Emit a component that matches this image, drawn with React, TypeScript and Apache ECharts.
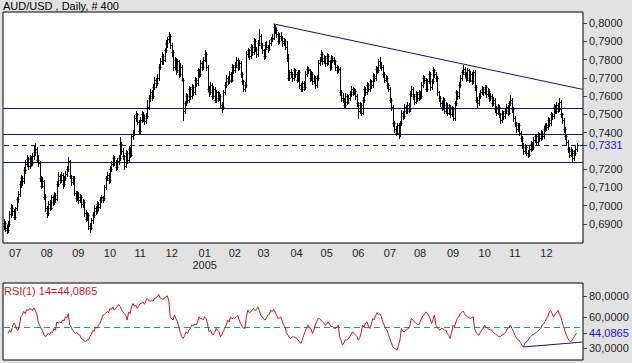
import React, { useEffect, useRef } from "react";
import * as echarts from "echarts";

// Prices in units of 0.0001 (pips)
const OPEN = [
  6890,6905,6880,6868,6900,6955,6990,6970,6940,6985,
  7035,7065,7120,7150,7135,7195,7230,7255,7215,7260,
  7235,7270,7295,7310,7250,7235,7150,7110,7135,7050,
  6985,6960,7010,6990,7045,7020,7060,7035,7120,7165,
  7140,7170,7120,7150,7175,7200,7245,7160,7130,7150,
  7070,7040,7065,7030,7050,7010,7020,6960,6930,6950,
  6890,6880,6920,6950,6990,6970,7010,6995,7030,7045,
  7040,7100,7150,7170,7140,7200,7230,7260,7240,7210,
  7245,7260,7340,7300,7270,7220,7290,7250,7310,7280,
  7380,7395,7480,7500,7460,7410,7470,7500,7480,7465,
  7490,7540,7590,7620,7600,7650,7690,7670,7700,7760,
  7790,7820,7800,7850,7890,7910,7930,7880,7840,7760,
  7800,7740,7790,7720,7760,7690,7520,7560,7600,7580,
  7640,7600,7650,7620,7690,7670,7740,7720,7780,7760,
  7800,7830,7760,7640,7620,7660,7600,7640,7580,7620,
  7590,7600,7550,7540,7620,7660,7700,7680,7720,7690,
  7760,7740,7770,7800,7760,7780,7720,7680,7640,7660,
  7830,7850,7820,7870,7840,7900,7860,7830,7890,7930,
  7880,7850,7820,7880,7870,7860,7890,7910,7920,7980,
  7960,7940,7900,7930,7920,7890,7900,7870,7810,7700,
  7730,7720,7700,7740,7720,7690,7730,7660,7640,7670,
  7650,7720,7750,7740,7700,7720,7680,7700,7660,7700,
  7780,7800,7830,7790,7810,7780,7820,7790,7760,7810,
  7800,7790,7760,7740,7750,7620,7590,7580,7550,7600,
  7570,7590,7610,7640,7620,7630,7600,7560,7520,7550,
  7510,7580,7640,7620,7660,7640,7680,7660,7710,7700,
  7750,7740,7790,7770,7760,7720,7690,7700,7660,7640,
  7580,7540,7450,7420,7400,7440,7390,7450,7510,7490,
  7540,7520,7550,7530,7610,7640,7600,7570,7610,7590,
  7620,7600,7660,7700,7690,7640,7680,7720,7650,7680,
  7740,7720,7700,7620,7590,7560,7540,7580,7520,7550,
  7510,7540,7500,7530,7480,7560,7620,7600,7660,7700,
  7730,7750,7720,7700,7740,7690,7720,7680,7730,7650,
  7580,7560,7600,7620,7640,7620,7650,7610,7630,7590,
  7600,7560,7580,7530,7510,7540,7500,7470,7510,7490,
  7520,7540,7510,7560,7580,7530,7480,7450,7420,7440,
  7400,7370,7330,7300,7320,7290,7280,7310,7340,7320,
  7360,7380,7350,7390,7370,7400,7380,7420,7440,7430,
  7470,7450,7500,7490,7540,7520,7550,7530,7570,7500,
  7470,7420,7380,7350,7310,7280,7300,7260,7290,7310,
];
const HIGH = [
  6925,6915,6895,6915,6970,7010,7005,6980,6995,7050,
  7080,7135,7170,7165,7210,7250,7275,7265,7280,7270,
  7290,7325,7343,7320,7275,7245,7165,7155,7140,7065,
  7000,7025,7030,7060,7055,7075,7070,7135,7185,7175,
  7185,7180,7165,7190,7215,7266,7250,7170,7165,7160,
  7080,7080,7075,7065,7060,7035,7030,6975,6965,6960,
  6905,6935,6965,7005,7000,7025,7020,7045,7060,7055,
  7115,7165,7185,7180,7215,7245,7275,7270,7250,7260,
  7275,7376,7350,7315,7280,7305,7300,7325,7320,7395,
  7415,7495,7520,7510,7470,7485,7520,7515,7495,7510,
  7580,7605,7640,7635,7665,7705,7700,7720,7775,7810,
  7840,7830,7865,7905,7925,7950,7940,7890,7850,7815,
  7810,7805,7800,7780,7770,7700,7575,7615,7610,7655,
  7650,7665,7660,7705,7700,7755,7750,7795,7790,7815,
  7852,7840,7770,7655,7675,7670,7655,7650,7635,7630,
  7620,7610,7565,7635,7675,7715,7710,7735,7730,7775,
  7770,7785,7815,7810,7795,7790,7730,7690,7675,7845,
  7865,7860,7885,7880,7915,7910,7870,7905,7967,7940,
  7890,7860,7895,7900,7880,7905,7925,7940,7995,7990,
  7975,7950,7945,7950,7930,7920,7910,7900,7830,7745,
  7750,7730,7755,7750,7730,7745,7740,7670,7685,7680,
  7735,7765,7760,7750,7735,7730,7715,7710,7715,7795,
  7815,7852,7840,7825,7820,7835,7830,7800,7825,7820,
  7815,7800,7770,7765,7760,7635,7615,7590,7615,7610,
  7605,7625,7655,7650,7645,7640,7610,7570,7565,7560,
  7595,7655,7650,7675,7670,7695,7690,7725,7720,7765,
  7760,7805,7814,7785,7770,7730,7715,7710,7670,7650,
  7590,7550,7465,7435,7455,7450,7465,7525,7520,7555,
  7550,7565,7560,7625,7655,7650,7610,7625,7620,7635,
  7630,7675,7715,7710,7700,7695,7735,7730,7695,7760,
  7750,7730,7710,7630,7600,7575,7595,7590,7565,7560,
  7555,7550,7545,7540,7575,7635,7630,7675,7715,7745,
  7770,7760,7730,7755,7750,7735,7730,7745,7740,7660,
  7595,7615,7635,7655,7650,7660,7660,7645,7640,7615,
  7610,7595,7590,7545,7555,7550,7510,7525,7520,7535,
  7555,7550,7575,7605,7590,7540,7490,7460,7455,7450,
  7410,7380,7345,7335,7330,7305,7325,7355,7350,7375,
  7395,7390,7405,7400,7415,7410,7435,7455,7450,7485,
  7480,7515,7510,7555,7550,7565,7560,7590,7580,7510,
  7480,7430,7390,7360,7320,7320,7310,7305,7325,7345,
];
const LOW = [
  6870,6860,6850,6858,6890,6940,6950,6925,6930,6975,
  7020,7055,7105,7115,7125,7180,7215,7200,7205,7220,
  7225,7255,7280,7240,7220,7135,7095,7100,7035,6970,
  6938,6950,6975,6980,7005,7010,7020,7030,7110,7125,
  7130,7095,7110,7140,7160,7190,7150,7115,7120,7060,
  7025,7030,7015,7020,6995,6995,6945,6915,6920,6870,
  6856,6870,6905,6940,6955,6960,6975,6985,7020,7020,
  7030,7090,7140,7125,7130,7190,7220,7225,7195,7200,
  7230,7250,7285,7255,7200,7210,7235,7240,7265,7270,
  7365,7385,7465,7445,7390,7400,7460,7465,7445,7455,
  7480,7530,7575,7580,7590,7640,7650,7660,7690,7750,
  7775,7775,7790,7840,7870,7895,7865,7820,7740,7750,
  7720,7730,7705,7710,7680,7470,7505,7550,7565,7570,
  7585,7590,7605,7610,7655,7660,7705,7710,7745,7750,
  7790,7745,7625,7600,7610,7585,7590,7565,7570,7575,
  7580,7535,7513,7530,7610,7650,7665,7670,7675,7680,
  7725,7730,7760,7745,7750,7705,7665,7625,7630,7650,
  7815,7805,7810,7825,7830,7845,7815,7820,7880,7865,
  7835,7805,7810,7855,7840,7850,7880,7900,7910,7945,
  7925,7885,7890,7905,7875,7880,7855,7790,7690,7690,
  7705,7680,7690,7705,7675,7680,7645,7625,7630,7635,
  7640,7710,7725,7685,7690,7665,7670,7645,7650,7690,
  7770,7790,7775,7780,7765,7770,7775,7745,7750,7785,
  7775,7745,7725,7730,7605,7575,7565,7535,7540,7555,
  7560,7580,7600,7605,7610,7585,7545,7480,7505,7495,
  7500,7570,7605,7610,7625,7630,7645,7650,7685,7690,
  7725,7730,7755,7745,7705,7675,7680,7645,7625,7565,
  7525,7435,7405,7385,7390,7370,7380,7440,7475,7480,
  7505,7510,7515,7520,7600,7585,7555,7560,7575,7580,
  7585,7590,7650,7670,7625,7630,7670,7635,7640,7670,
  7705,7685,7605,7575,7545,7525,7530,7505,7510,7495,
  7500,7485,7490,7469,7470,7550,7585,7590,7650,7690,
  7720,7705,7685,7690,7675,7680,7665,7670,7635,7565,
  7540,7550,7590,7610,7605,7610,7595,7600,7575,7580,
  7545,7550,7515,7495,7500,7485,7455,7460,7475,7480,
  7510,7495,7500,7550,7515,7465,7435,7405,7410,7385,
  7355,7315,7285,7290,7275,7266,7270,7300,7305,7310,
  7350,7335,7340,7355,7360,7365,7370,7410,7415,7420,
  7435,7440,7475,7480,7505,7510,7515,7520,7485,7455,
  7405,7365,7335,7295,7265,7270,7239,7250,7280,7300,
];
const CLOSE = [
  6905,6880,6868,6900,6955,6990,6970,6940,6985,7035,
  7065,7120,7150,7135,7195,7230,7255,7215,7260,7235,
  7270,7295,7310,7250,7235,7150,7110,7135,7050,6985,
  6960,7010,6990,7045,7020,7060,7035,7120,7165,7140,
  7170,7120,7150,7175,7200,7245,7160,7130,7150,7070,
  7040,7065,7030,7050,7010,7020,6960,6930,6950,6890,
  6880,6920,6950,6990,6970,7010,6995,7030,7045,7040,
  7100,7150,7170,7140,7200,7230,7260,7240,7210,7245,
  7260,7340,7300,7270,7220,7290,7250,7310,7280,7380,
  7395,7480,7500,7460,7410,7470,7500,7480,7465,7490,
  7540,7590,7620,7600,7650,7690,7670,7700,7760,7790,
  7820,7800,7850,7890,7910,7930,7880,7840,7760,7800,
  7740,7790,7720,7760,7690,7520,7560,7600,7580,7640,
  7600,7650,7620,7690,7670,7740,7720,7780,7760,7800,
  7830,7760,7640,7620,7660,7600,7640,7580,7620,7590,
  7600,7550,7540,7620,7660,7700,7680,7720,7690,7760,
  7740,7770,7800,7760,7780,7720,7680,7640,7660,7830,
  7850,7820,7870,7840,7900,7860,7830,7890,7930,7880,
  7850,7820,7880,7870,7860,7890,7910,7920,7980,7960,
  7940,7900,7930,7920,7890,7900,7870,7810,7700,7730,
  7720,7700,7740,7720,7690,7730,7660,7640,7670,7650,
  7720,7750,7740,7700,7720,7680,7700,7660,7700,7780,
  7800,7830,7790,7810,7780,7820,7790,7760,7810,7800,
  7790,7760,7740,7750,7620,7590,7580,7550,7600,7570,
  7590,7610,7640,7620,7630,7600,7560,7520,7550,7510,
  7580,7640,7620,7660,7640,7680,7660,7710,7700,7750,
  7740,7790,7770,7760,7720,7690,7700,7660,7640,7580,
  7540,7450,7420,7400,7440,7390,7450,7510,7490,7540,
  7520,7550,7530,7610,7640,7600,7570,7610,7590,7620,
  7600,7660,7700,7690,7640,7680,7720,7650,7680,7740,
  7720,7700,7620,7590,7560,7540,7580,7520,7550,7510,
  7540,7500,7530,7480,7560,7620,7600,7660,7700,7730,
  7750,7720,7700,7740,7690,7720,7680,7730,7650,7580,
  7560,7600,7620,7640,7620,7650,7610,7630,7590,7600,
  7560,7580,7530,7510,7540,7500,7470,7510,7490,7520,
  7540,7510,7560,7580,7530,7480,7450,7420,7440,7400,
  7370,7330,7300,7320,7290,7280,7310,7340,7320,7360,
  7380,7350,7390,7370,7400,7380,7420,7440,7430,7470,
  7450,7500,7490,7540,7520,7550,7530,7570,7500,7470,
  7420,7380,7350,7310,7280,7300,7260,7290,7310,7331,
];
const RSI = [
  null,null,null,44,47,45,50,54,52,48,
  47,52,60,62,65,63,67,66,68,67,
  66,68.5,66,63,55,52,49,47,43,41,
  42,44,43,45.6,45,48.8,47,55,54,55,
  54,57,56,60,59,63,52,50,47,45,
  44,45,43,42.4,39,38.6,37,36,38,37.6,
  40.8,43,47,46,50.4,49,52,53.6,57,61.6,
  62,63.2,65,64,68,67,69.5,66.3,68,69.5,
  71.7,70,67,64.7,63,61.6,56.8,64.7,63,69.5,
  72.7,70,71,68,70,72.7,73,74.3,72,75,
  77.5,76,74.3,76,75,77.5,78,79,81.3,78,
  77.5,76.8,78,79,80,75,60,58,56.8,61.6,
  58,55.2,50,45,40.8,39.2,42,45.6,44,47.2,
  49,52,51,53,52,55,60,58,58.4,57,
  60,58,53,45.6,47,44,42.4,45,48.8,47,
  45.6,40.8,43,46,48.8,52,56.8,55,60,58,
  59,58.4,60,61,57,53.6,51,49,48.8,60,
  66.3,64,64.7,66,68,66,67,69.5,66,61.6,
  60,58,56.8,59,61.6,62,66.3,65,67,64.7,
  62,58.4,59,60,56,52,50,44,42.4,40,
  39.2,41,40.8,40,39.2,38,36,34.4,38,42.4,
  46,50,52,49,48.8,44,47,52,55,58.4,
  58,56.8,55,54,52,53,55.2,53,50.4,51,
  49,48.8,50,52,40.8,37,32.8,35,38,37.6,
  39,40.8,43,45.6,44,42.4,41,37.6,40,45,
  52,50,54,55.2,51,48.8,52,58.4,57,61,
  64,62,63,60,55.2,52,48.8,47,43,39.2,
  35,31.2,30,29,28,33,37.6,48.8,46,45.6,
  47,48,48.8,52,58.4,57,55.2,54,53,52,
  55,58.4,61,62,64.7,63,61.6,58,53.6,57,
  61.6,52,50,48,47.2,49,48.8,47,47.2,44,
  42,39.2,45,52,50,55,58.4,60,63.2,64,
  65.5,63,61,60,59,58.4,59,60,48.8,45,
  43,42.4,45,47.2,49,52,50,48.8,48,47.5,
  47.2,45,44,43,42,40.8,41,42.4,43,44,
  46,48.8,50,52,48.8,46,42.4,40,38,37.6,
  35,32.8,31,34.4,36,37,39.2,41,42.4,43,
  44,45,46,47.2,49,52,53,55.2,58,60,
  64.7,66.3,63,60,62,64,66.3,63,60,55,
  50.4,46,42.4,39,37,36,37.6,40,42.4,44.0865,
];

const N_SLOTS = 404;
const MONTH_START = [8, 30, 52, 74, 95, 117, 140, 161, 181, 204, 225, 247, 269, 290, 313, 335, 356, 378];
const MONTH_LABELS = ["07", "08", "09", "10", "11", "12", "01", "02", "03", "04", "05", "06", "07", "08", "09", "10", "11", "12"];
const YEAR_INDEX = 140;
const YEAR_LABEL = "2005";
const PRICE_TICKS = [6900, 7000, 7100, 7200, 7331, 7400, 7500, 7600, 7700, 7800, 7900, 8000];
const LAST_PRICE = 7331;
const SUPPORT_LEVELS = [7533, 7391, 7241];
const PRICE_TREND = [[188, 7995], [403, 7637]];
const RSI_TICKS = [30, 44.0865, 60, 80];
const RSI_LAST = 44.0865;
const RSI_MID = 50;
const RSI_TREND = [[362, 31], [403, 35.7]];

const NAVY = "#10108a";
const DASH_NAVY = "#1414a8";
const TEAL = "#139a9a";
const FONT = "Arial, 'Liberation Sans', sans-serif";

// horizontal level across the whole grid, positioned by the axis scale; dashed ones as short segments
function levelItem(color: string, dashColor: string, dash: number, gap: number) {
  return (params: any, api: any) => {
    const cs = params.coordSys;
    const y = Math.round(api.coord([0, api.value(1)])[1]) + 0.5;
    const dashed = api.value(2) === 1;
    if (!dashed) {
      return {
        type: "line",
        shape: { x1: cs.x, y1: y, x2: cs.x + cs.width, y2: y },
        style: { stroke: color, lineWidth: 1 },
      };
    }
    const children: any[] = [];
    for (let x = cs.x + 1; x < cs.x + cs.width; x += dash + gap) {
      children.push({
        type: "rect",
        shape: { x: Math.round(x), y: y - 0.5, width: Math.min(dash, cs.x + cs.width - x), height: 1 },
        style: { fill: dashColor },
      });
    }
    return { type: "group", children };
  };
}

export default function App() {
  const ref = useRef<HTMLDivElement>(null);

  useEffect(() => {
    document.body.style.margin = "0";
    if (!ref.current) return;
    const chart = echarts.init(ref.current, undefined, { renderer: "svg" });
    const cats = Array.from({ length: N_SLOTS }, (_, i) => String(i));
    const labelMap: Record<number, string> = {};
    MONTH_START.forEach((idx, k) => {
      labelMap[idx] = MONTH_LABELS[k] + (idx === YEAR_INDEX ? "\n" + YEAR_LABEL : "");
    });
    const bars = CLOSE.map((c, i) => [i, OPEN[i], HIGH[i], LOW[i], c]);
    const rsiData = RSI.map((v, i) => [i, v]);
    const priceLevels = [
      ...SUPPORT_LEVELS.map((v) => [0, v, 0]),
      [0, LAST_PRICE, 1],
    ];
    const rsiLevels = [[0, RSI_MID, 1]];

    const option: any = {
      animation: false,
      backgroundColor: "#e2e2e2",
      textStyle: { fontFamily: FONT },
      grid: [
        { left: 3, right: 49, top: 12, height: 231, show: true, backgroundColor: "#fff", borderColor: "#000", borderWidth: 1 },
        { left: 3, right: 49, top: 283, height: 77, show: true, backgroundColor: "#fff", borderColor: "#000", borderWidth: 1 },
      ],
      xAxis: [
        {
          type: "category", gridIndex: 0, data: cats, boundaryGap: true,
          axisLine: { show: false }, axisTick: { show: false }, splitLine: { show: false },
          axisLabel: {
            interval: (index: number) => labelMap[index] !== undefined,
            formatter: (_v: string, index: number) => labelMap[index] ?? "",
            color: "#222", fontSize: 11, fontFamily: FONT, margin: 4, lineHeight: 12,
          },
        },
        {
          type: "category", gridIndex: 1, data: cats, boundaryGap: true,
          axisLine: { show: false }, axisTick: { show: false }, axisLabel: { show: false }, splitLine: { show: false },
        },
      ],
      yAxis: [
        {
          type: "value", gridIndex: 0, position: "right", min: 6796, max: 8060,
          splitLine: { show: false }, axisLine: { show: false },
          axisTick: { show: true, customValues: PRICE_TICKS, length: 4, lineStyle: { color: "#1e4e4e" } },
          axisLabel: {
            customValues: PRICE_TICKS, margin: 6, fontSize: 11, fontFamily: FONT,
            formatter: (v: number) => (Number(v) / 10000).toFixed(4).replace(".", ","),
            color: (v: any) => (Math.abs(Number(v) - LAST_PRICE) < 0.5 ? "#1414c8" : "#222"),
          },
        },
        {
          type: "value", gridIndex: 1, position: "right", min: 18.5, max: 92.4,
          splitLine: { show: false }, axisLine: { show: false },
          axisTick: { show: true, customValues: RSI_TICKS, length: 4, lineStyle: { color: "#1e4e4e" } },
          axisLabel: {
            customValues: RSI_TICKS, margin: 6, fontSize: 11, fontFamily: FONT,
            formatter: (v: number) => Number(v).toFixed(4).replace(".", ","),
            color: (v: any) => (Math.abs(Number(v) - RSI_LAST) < 0.01 ? "#1414c8" : "#222"),
          },
        },
      ],
      series: [
        {
          type: "custom", xAxisIndex: 0, yAxisIndex: 0, data: priceLevels, silent: true, z: 3,
          encode: { x: 0, y: 1 }, renderItem: levelItem(NAVY, DASH_NAVY, 5, 4),
        },
        {
          type: "line", xAxisIndex: 0, yAxisIndex: 0, data: PRICE_TREND, silent: true,
          showSymbol: false, symbol: "none", lineStyle: { color: NAVY, width: 1 }, z: 3,
        },
        {
          type: "custom", xAxisIndex: 0, yAxisIndex: 0, data: bars, silent: true, clip: true, z: 4,
          encode: { x: 0, y: [1, 2, 3, 4] },
          renderItem: (_params: any, api: any) => {
            const i = api.value(0);
            const o = api.coord([i, api.value(1)]);
            const h = api.coord([i, api.value(2)]);
            const l = api.coord([i, api.value(3)]);
            const c = api.coord([i, api.value(4)]);
            const px = Math.round(h[0]) + 0.5;
            const style = { stroke: "#000", lineWidth: 1 };
            const oy = Math.round(o[1]) + 0.5;
            const cy = Math.round(c[1]) + 0.5;
            return {
              type: "group",
              children: [
                { type: "line", shape: { x1: px, y1: Math.round(h[1]), x2: px, y2: Math.round(l[1]) + 1 }, style },
                { type: "line", shape: { x1: px - 2, y1: oy, x2: px, y2: oy }, style },
                { type: "line", shape: { x1: px, y1: cy, x2: px + 2, y2: cy }, style },
              ],
            };
          },
        },
        {
          type: "custom", xAxisIndex: 1, yAxisIndex: 1, data: rsiLevels, silent: true, z: 3,
          encode: { x: 0, y: 1 }, renderItem: levelItem(TEAL, TEAL, 6, 4),
        },
        {
          type: "line", xAxisIndex: 1, yAxisIndex: 1, data: rsiData, silent: true,
          showSymbol: false, symbol: "none", connectNulls: false,
          lineStyle: { color: "#d41414", width: 1 }, z: 4,
        },
        {
          type: "line", xAxisIndex: 1, yAxisIndex: 1, data: RSI_TREND, silent: true,
          showSymbol: false, symbol: "none", lineStyle: { color: NAVY, width: 1 }, z: 3,
        },
      ],
      graphic: [
        { type: "text", left: 3, top: 0, style: { text: "AUD/USD , Daily, # 400", fill: "#000", font: `11px ${FONT}` } },
        { type: "text", left: 4, top: 285, style: { text: "RSI(1) 14=44,0865", fill: "#d41414", font: `11px ${FONT}` } },
      ],
    };
    chart.setOption(option);
    return () => chart.dispose();
  }, []);

  return <div ref={ref} style={{ width: 632, height: 363, background: "#e2e2e2" }} />;
}
